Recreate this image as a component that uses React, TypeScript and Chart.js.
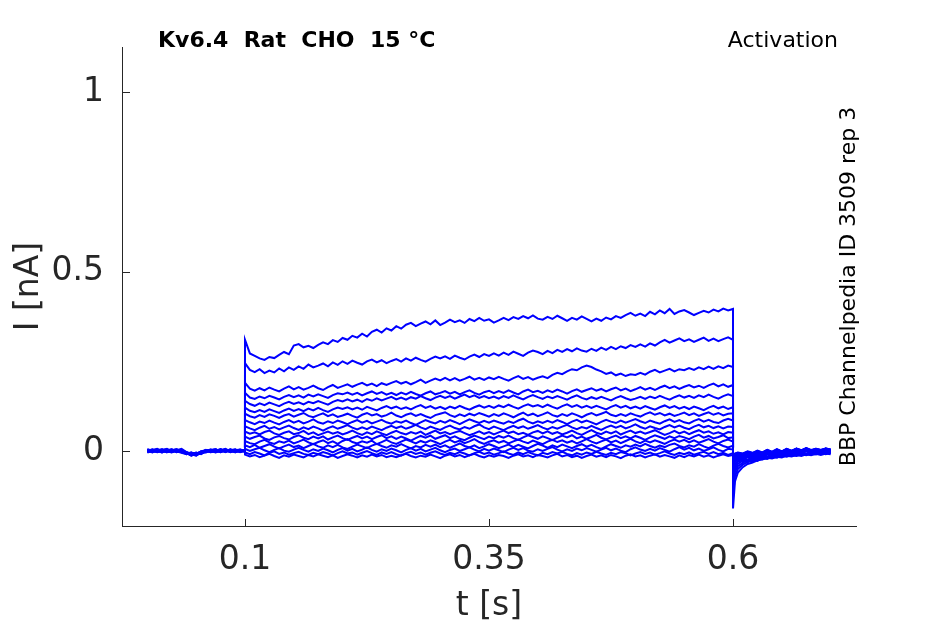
import { useEffect, useRef } from "react";
import Chart from "chart.js/auto";

// sample times (s); 0.1 and 0.6 appear twice for the step edges
const TIME = [
  0, 0.005, 0.01, 0.015, 0.02, 0.025, 0.03, 0.035, 0.04, 0.045, 0.05,
  0.055, 0.06, 0.065, 0.07, 0.075, 0.08, 0.085, 0.09, 0.095, 0.1,
  0.1, 0.105, 0.11, 0.115, 0.12, 0.125, 0.13, 0.135, 0.14, 0.145, 0.15,
  0.155, 0.16, 0.165, 0.17, 0.175, 0.18, 0.185, 0.19, 0.195, 0.2,
  0.205, 0.21, 0.215, 0.22, 0.225, 0.23, 0.235, 0.24, 0.245, 0.25,
  0.255, 0.26, 0.265, 0.27, 0.275, 0.28, 0.285, 0.29, 0.295, 0.3,
  0.305, 0.31, 0.315, 0.32, 0.325, 0.33, 0.335, 0.34, 0.345, 0.35,
  0.355, 0.36, 0.365, 0.37, 0.375, 0.38, 0.385, 0.39, 0.395, 0.4,
  0.405, 0.41, 0.415, 0.42, 0.425, 0.43, 0.435, 0.44, 0.445, 0.45,
  0.455, 0.46, 0.465, 0.47, 0.475, 0.48, 0.485, 0.49, 0.495, 0.5,
  0.505, 0.51, 0.515, 0.52, 0.525, 0.53, 0.535, 0.54, 0.545, 0.55,
  0.555, 0.56, 0.565, 0.57, 0.575, 0.58, 0.585, 0.59, 0.595, 0.6,
  0.6, 0.602, 0.605, 0.61, 0.615, 0.62, 0.625, 0.63, 0.635, 0.64, 0.645,
  0.65, 0.655, 0.66, 0.665, 0.67, 0.675, 0.68, 0.685, 0.69, 0.695, 0.7,
];

// current traces (nA), one per voltage step: holding / step / tail
const TRACE_01 = [
  0.003, -0.002, 0.004, 0.0, -0.003, 0.002, 0.005, -0.001, -0.006, -0.01, -0.004,
  -0.008, 0.001, -0.002, 0.003, 0.0, 0.004, -0.003, 0.002, -0.001, 0.001,
  0.31, 0.272, 0.265, 0.258, 0.254, 0.262, 0.259, 0.268, 0.276, 0.27, 0.294,
  0.298, 0.289, 0.293, 0.287, 0.296, 0.303, 0.298, 0.309, 0.304, 0.315,
  0.31, 0.321, 0.316, 0.327, 0.319, 0.332, 0.338, 0.33, 0.342, 0.336,
  0.348, 0.341, 0.352, 0.357, 0.348, 0.355, 0.361, 0.353, 0.364, 0.351,
  0.358, 0.366, 0.359, 0.364, 0.357, 0.368, 0.362, 0.371, 0.363, 0.367,
  0.358, 0.364, 0.371, 0.365, 0.373, 0.368, 0.376, 0.37, 0.378, 0.369,
  0.366, 0.374, 0.368, 0.377, 0.37, 0.363, 0.371, 0.366, 0.375, 0.368,
  0.361, 0.369, 0.363, 0.372, 0.367, 0.376, 0.371, 0.379, 0.385, 0.377,
  0.383, 0.376, 0.388, 0.381, 0.392, 0.384, 0.396, 0.382, 0.389, 0.393,
  0.386, 0.379, 0.385, 0.391, 0.386, 0.394, 0.389, 0.397, 0.392, 0.396,
  -0.16, -0.085, -0.06, -0.045, -0.036, -0.032, -0.026, -0.024, -0.019, -0.021, -0.016,
  -0.018, -0.013, -0.015, -0.011, -0.014, -0.009, -0.012, -0.008, -0.011, -0.007, -0.009,
];
const TRACE_02 = [
  -0.002, 0.004, 0.0, -0.004, 0.003, -0.001, 0.002, 0.006, -0.003, -0.007, -0.011,
  -0.005, -0.002, 0.003, -0.001, 0.004, 0.0, 0.003, -0.004, 0.002, -0.001,
  0.245, 0.226, 0.22, 0.228, 0.217, 0.224, 0.219, 0.23, 0.222, 0.233, 0.226,
  0.236, 0.229, 0.241, 0.233, 0.238, 0.244, 0.236, 0.247, 0.24, 0.25,
  0.243, 0.252, 0.246, 0.241, 0.25, 0.255, 0.247, 0.253, 0.245, 0.251,
  0.256, 0.249, 0.258, 0.252, 0.26, 0.254, 0.249, 0.257, 0.263, 0.258,
  0.264, 0.257, 0.266, 0.26, 0.255, 0.263, 0.269, 0.262, 0.27, 0.265,
  0.272, 0.266, 0.274, 0.268, 0.277, 0.271, 0.265, 0.274, 0.28, 0.276,
  0.27, 0.279, 0.273, 0.282, 0.276, 0.284, 0.278, 0.286, 0.28, 0.277,
  0.285, 0.279, 0.288, 0.282, 0.29, 0.284, 0.292, 0.287, 0.295, 0.29,
  0.297, 0.291, 0.3, 0.294, 0.303, 0.31, 0.302, 0.308, 0.314, 0.306,
  0.311, 0.304, 0.31, 0.316, 0.307, 0.313, 0.306, 0.312, 0.317, 0.31,
  -0.125, -0.07, -0.05, -0.038, -0.031, -0.025, -0.028, -0.02, -0.022, -0.016, -0.019,
  -0.013, -0.016, -0.011, -0.014, -0.009, -0.012, -0.008, -0.01, -0.006, -0.009, -0.005,
];
const TRACE_03 = [
  0.005, 0.001, -0.003, 0.002, 0.006, -0.002, -0.001, -0.005, -0.009, -0.004, -0.008,
  -0.002, 0.002, -0.003, 0.001, 0.005, -0.002, 0.001, 0.004, -0.002, 0.002,
  0.19, 0.174, 0.168, 0.175, 0.169, 0.177, 0.171, 0.166, 0.174, 0.18, 0.172,
  0.178, 0.171, 0.176, 0.182, 0.175, 0.17, 0.178, 0.184, 0.176, 0.181,
  0.186, 0.179, 0.185, 0.19, 0.183, 0.188, 0.181, 0.189, 0.184, 0.19,
  0.195, 0.188, 0.193, 0.186, 0.192, 0.199, 0.19, 0.196, 0.202, 0.197,
  0.204, 0.197, 0.203, 0.196, 0.201, 0.207, 0.199, 0.204, 0.198, 0.205,
  0.2, 0.207, 0.201, 0.196, 0.203, 0.209, 0.201, 0.206, 0.199, 0.204,
  0.208, 0.203, 0.212, 0.218, 0.214, 0.222, 0.228, 0.225, 0.233, 0.238,
  0.234, 0.227, 0.222, 0.215, 0.219, 0.211, 0.216, 0.209, 0.214, 0.212,
  0.218, 0.213, 0.221, 0.226, 0.219, 0.224, 0.229, 0.222, 0.228, 0.225,
  0.231, 0.226, 0.233, 0.228, 0.235, 0.229, 0.236, 0.231, 0.238, 0.234,
  -0.1, -0.058, -0.042, -0.033, -0.025, -0.029, -0.02, -0.023, -0.016, -0.019, -0.013,
  -0.016, -0.01, -0.013, -0.008, -0.012, -0.007, -0.01, -0.005, -0.009, -0.004, -0.007,
];
const TRACE_04 = [
  -0.004, 0.0, 0.003, -0.002, 0.001, 0.005, -0.003, 0.002, -0.004, -0.012, -0.007,
  -0.003, 0.001, 0.004, -0.002, 0.002, 0.006, -0.001, 0.0, 0.003, -0.002,
  0.162, 0.149, 0.145, 0.152, 0.147, 0.154, 0.149, 0.144, 0.151, 0.156, 0.15,
  0.155, 0.149, 0.157, 0.152, 0.158, 0.153, 0.148, 0.156, 0.161, 0.158,
  0.163, 0.157, 0.162, 0.155, 0.161, 0.166, 0.159, 0.164, 0.157, 0.162,
  0.156, 0.163, 0.158, 0.165, 0.159, 0.154, 0.161, 0.166, 0.158, 0.162,
  0.167, 0.16, 0.165, 0.158, 0.164, 0.169, 0.162, 0.157, 0.164, 0.168,
  0.161, 0.167, 0.162, 0.169, 0.163, 0.158, 0.166, 0.171, 0.164, 0.168,
  0.162, 0.169, 0.164, 0.171, 0.166, 0.16, 0.167, 0.172, 0.165, 0.17,
  0.175, 0.168, 0.173, 0.166, 0.172, 0.177, 0.169, 0.174, 0.167, 0.172,
  0.178, 0.171, 0.176, 0.17, 0.177, 0.182, 0.175, 0.18, 0.173, 0.179,
  0.184, 0.177, 0.182, 0.176, 0.183, 0.188, 0.18, 0.186, 0.179, 0.184,
  -0.085, -0.05, -0.036, -0.027, -0.031, -0.022, -0.025, -0.017, -0.02, -0.014, -0.017,
  -0.011, -0.014, -0.008, -0.012, -0.006, -0.01, -0.005, -0.008, -0.003, -0.007, -0.004,
];
const TRACE_05 = [
  0.001, -0.003, 0.002, 0.005, -0.001, -0.004, 0.003, 0.0, -0.007, -0.005, -0.01,
  -0.006, -0.001, 0.002, 0.005, -0.003, 0.001, 0.004, -0.002, 0.001, 0.003,
  0.14, 0.131, 0.126, 0.133, 0.128, 0.135, 0.13, 0.125, 0.132, 0.137, 0.131,
  0.136, 0.13, 0.137, 0.133, 0.139, 0.134, 0.129, 0.137, 0.142, 0.138,
  0.144, 0.138, 0.143, 0.137, 0.145, 0.14, 0.147, 0.141, 0.146, 0.151,
  0.144, 0.149, 0.143, 0.15, 0.146, 0.153, 0.147, 0.142, 0.149, 0.154,
  0.148, 0.153, 0.146, 0.152, 0.157, 0.15, 0.155, 0.148, 0.153, 0.147,
  0.152, 0.146, 0.153, 0.148, 0.155, 0.149, 0.144, 0.151, 0.156, 0.15,
  0.145, 0.152, 0.147, 0.153, 0.148, 0.143, 0.15, 0.155, 0.148, 0.144,
  0.15, 0.145, 0.151, 0.146, 0.141, 0.148, 0.153, 0.147, 0.142, 0.146,
  0.151, 0.145, 0.152, 0.147, 0.154, 0.148, 0.143, 0.15, 0.155, 0.149,
  0.154, 0.148, 0.155, 0.15, 0.157, 0.151, 0.146, 0.153, 0.158, 0.153,
  -0.07, -0.043, -0.03, -0.024, -0.027, -0.019, -0.022, -0.015, -0.018, -0.012, -0.015,
  -0.009, -0.013, -0.007, -0.011, -0.005, -0.009, -0.004, -0.008, -0.002, -0.006, -0.003,
];
const TRACE_06 = [
  0.004, 0.0, -0.002, 0.003, -0.003, 0.001, 0.004, -0.002, -0.005, -0.009, -0.013,
  -0.004, 0.0, -0.003, 0.002, 0.004, -0.001, 0.002, 0.005, -0.002, 0.0,
  0.121, 0.112, 0.108, 0.114, 0.109, 0.116, 0.111, 0.106, 0.113, 0.118, 0.112,
  0.117, 0.111, 0.118, 0.113, 0.12, 0.114, 0.109, 0.116, 0.121, 0.117,
  0.122, 0.116, 0.121, 0.115, 0.123, 0.118, 0.113, 0.12, 0.125, 0.119,
  0.124, 0.117, 0.122, 0.116, 0.123, 0.128, 0.12, 0.125, 0.118, 0.123,
  0.117, 0.124, 0.119, 0.126, 0.12, 0.115, 0.122, 0.127, 0.121, 0.126,
  0.12, 0.127, 0.122, 0.129, 0.123, 0.118, 0.125, 0.13, 0.124, 0.128,
  0.122, 0.129, 0.123, 0.118, 0.125, 0.13, 0.123, 0.128, 0.121, 0.126,
  0.12, 0.126, 0.121, 0.116, 0.123, 0.128, 0.121, 0.126, 0.119, 0.124,
  0.118, 0.125, 0.12, 0.115, 0.122, 0.127, 0.12, 0.125, 0.118, 0.123,
  0.117, 0.124, 0.119, 0.114, 0.121, 0.126, 0.119, 0.124, 0.117, 0.122,
  -0.058, -0.037, -0.027, -0.02, -0.024, -0.016, -0.02, -0.012, -0.016, -0.01, -0.013,
  -0.007, -0.011, -0.005, -0.01, -0.004, -0.008, -0.002, -0.007, -0.001, -0.005, -0.002,
];
const TRACE_07 = [
  -0.001, 0.003, 0.006, -0.002, 0.002, -0.002, 0.0, 0.003, -0.008, -0.006, -0.009,
  -0.001, 0.003, 0.0, -0.004, 0.001, 0.003, -0.002, 0.002, 0.004, -0.001,
  0.104, 0.097, 0.093, 0.1, 0.095, 0.102, 0.098, 0.092, 0.099, 0.103, 0.096,
  0.101, 0.106, 0.098, 0.094, 0.1, 0.105, 0.097, 0.102, 0.095, 0.099,
  0.104, 0.098, 0.093, 0.101, 0.106, 0.099, 0.103, 0.096, 0.1, 0.107,
  0.099, 0.094, 0.101, 0.105, 0.098, 0.103, 0.097, 0.092, 0.1, 0.104,
  0.108, 0.1, 0.095, 0.102, 0.097, 0.104, 0.099, 0.106, 0.101, 0.096,
  0.103, 0.098, 0.105, 0.1, 0.094, 0.101, 0.107, 0.099, 0.104, 0.097,
  0.102, 0.108, 0.1, 0.096, 0.103, 0.098, 0.105, 0.1, 0.094, 0.101,
  0.106, 0.099, 0.104, 0.109, 0.101, 0.097, 0.103, 0.098, 0.105, 0.1,
  0.096, 0.103, 0.108, 0.101, 0.106, 0.099, 0.104, 0.098, 0.102, 0.107,
  0.1, 0.105, 0.098, 0.103, 0.108, 0.101, 0.106, 0.099, 0.104, 0.105,
  -0.048, -0.031, -0.022, -0.025, -0.017, -0.021, -0.013, -0.017, -0.01, -0.014, -0.008,
  -0.012, -0.005, -0.01, -0.004, -0.008, -0.001, -0.006, 0.0, -0.005, 0.001, -0.003,
];
const TRACE_08 = [
  0.002, -0.004, 0.001, 0.004, 0.0, 0.003, -0.003, 0.001, -0.004, -0.011, -0.006,
  -0.007, -0.003, 0.002, 0.005, -0.001, 0.002, 0.0, -0.003, 0.001, 0.002,
  0.086, 0.08, 0.075, 0.082, 0.078, 0.085, 0.079, 0.074, 0.081, 0.086, 0.079,
  0.084, 0.077, 0.082, 0.088, 0.08, 0.076, 0.083, 0.078, 0.085, 0.08,
  0.075, 0.081, 0.086, 0.079, 0.084, 0.077, 0.082, 0.087, 0.08, 0.076,
  0.083, 0.079, 0.085, 0.078, 0.073, 0.08, 0.086, 0.081, 0.077, 0.084,
  0.079, 0.086, 0.081, 0.075, 0.082, 0.088, 0.083, 0.078, 0.084, 0.079,
  0.085, 0.08, 0.076, 0.083, 0.078, 0.085, 0.09, 0.082, 0.077, 0.083,
  0.078, 0.084, 0.079, 0.086, 0.081, 0.075, 0.082, 0.087, 0.08, 0.085,
  0.08, 0.074, 0.081, 0.087, 0.082, 0.078, 0.085, 0.079, 0.084, 0.089,
  0.083, 0.078, 0.085, 0.08, 0.076, 0.083, 0.088, 0.081, 0.086, 0.08,
  0.077, 0.084, 0.089, 0.082, 0.087, 0.081, 0.078, 0.085, 0.09, 0.085,
  -0.04, -0.027, -0.019, -0.022, -0.014, -0.018, -0.01, -0.015, -0.008, -0.012, -0.005,
  -0.01, -0.003, -0.008, -0.001, -0.006, 0.001, -0.005, 0.002, -0.004, 0.001, -0.002,
];
const TRACE_09 = [
  -0.003, 0.002, -0.001, 0.003, 0.005, -0.002, 0.002, -0.003, -0.006, -0.008, -0.012,
  -0.003, 0.002, -0.002, 0.001, 0.003, -0.003, 0.004, 0.001, -0.002, 0.003,
  0.069, 0.063, 0.058, 0.065, 0.07, 0.062, 0.067, 0.06, 0.066, 0.071, 0.064,
  0.059, 0.066, 0.061, 0.068, 0.063, 0.057, 0.064, 0.069, 0.062, 0.067,
  0.072, 0.065, 0.06, 0.066, 0.061, 0.068, 0.063, 0.058, 0.065, 0.07,
  0.064, 0.069, 0.062, 0.067, 0.073, 0.066, 0.061, 0.068, 0.063, 0.059,
  0.066, 0.071, 0.064, 0.06, 0.067, 0.062, 0.069, 0.074, 0.066, 0.061,
  0.068, 0.063, 0.058, 0.065, 0.07, 0.064, 0.069, 0.062, 0.067, 0.072,
  0.065, 0.06, 0.067, 0.062, 0.068, 0.073, 0.066, 0.061, 0.067, 0.063,
  0.07, 0.064, 0.059, 0.066, 0.071, 0.065, 0.07, 0.063, 0.068, 0.074,
  0.067, 0.062, 0.069, 0.064, 0.06, 0.067, 0.072, 0.066, 0.071, 0.065,
  0.061, 0.068, 0.073, 0.066, 0.07, 0.064, 0.069, 0.063, 0.068, 0.067,
  -0.033, -0.023, -0.016, -0.019, -0.011, -0.015, -0.008, -0.012, -0.005, -0.01, -0.002,
  -0.008, 0.0, -0.006, 0.002, -0.004, 0.003, -0.003, 0.002, -0.004, 0.003, -0.001,
];
const TRACE_10 = [
  0.003, 0.0, 0.004, -0.003, 0.001, 0.004, -0.001, 0.002, -0.005, -0.007, -0.005,
  -0.009, 0.0, 0.004, -0.001, -0.002, 0.004, 0.001, -0.001, 0.003, 0.0,
  0.054, 0.048, 0.052, 0.046, 0.053, 0.057, 0.049, 0.045, 0.051, 0.055, 0.047,
  0.05, 0.056, 0.047, 0.052, 0.044, 0.049, 0.054, 0.048, 0.053, 0.046,
  0.051, 0.057, 0.05, 0.045, 0.052, 0.047, 0.055, 0.049, 0.044, 0.051,
  0.056, 0.05, 0.046, 0.053, 0.048, 0.054, 0.045, 0.051, 0.057, 0.049,
  0.053, 0.047, 0.052, 0.056, 0.05, 0.044, 0.049, 0.055, 0.048, 0.053,
  0.046, 0.052, 0.057, 0.05, 0.054, 0.047, 0.051, 0.045, 0.052, 0.056,
  0.049, 0.055, 0.048, 0.053, 0.046, 0.051, 0.057, 0.05, 0.045, 0.052,
  0.058, 0.051, 0.047, 0.054, 0.049, 0.055, 0.046, 0.052, 0.057, 0.05,
  0.054, 0.048, 0.053, 0.058, 0.051, 0.045, 0.05, 0.056, 0.049, 0.054,
  0.047, 0.053, 0.058, 0.051, 0.055, 0.048, 0.052, 0.046, 0.053, 0.051,
  -0.027, -0.02, -0.013, -0.016, -0.009, -0.013, -0.006, -0.01, -0.003, -0.008, 0.0,
  -0.006, 0.002, -0.004, 0.003, -0.003, 0.004, -0.002, 0.003, -0.003, 0.004, 0.0,
];
const TRACE_11 = [
  0.0, 0.005, -0.002, 0.001, -0.003, 0.002, 0.005, -0.004, -0.003, -0.01, -0.008,
  -0.002, -0.004, 0.001, 0.003, 0.001, -0.002, 0.003, 0.002, -0.003, 0.001,
  0.04, 0.034, 0.039, 0.043, 0.035, 0.031, 0.038, 0.042, 0.036, 0.032, 0.039,
  0.044, 0.037, 0.033, 0.04, 0.035, 0.041, 0.032, 0.038, 0.043, 0.036,
  0.031, 0.037, 0.042, 0.035, 0.04, 0.033, 0.039, 0.044, 0.036, 0.041,
  0.034, 0.04, 0.035, 0.029, 0.036, 0.042, 0.037, 0.043, 0.034, 0.039,
  0.044, 0.036, 0.041, 0.034, 0.03, 0.037, 0.043, 0.038, 0.033, 0.04,
  0.035, 0.042, 0.037, 0.043, 0.036, 0.031, 0.038, 0.044, 0.039, 0.034,
  0.041, 0.036, 0.03, 0.037, 0.043, 0.038, 0.044, 0.035, 0.04, 0.034,
  0.039, 0.045, 0.037, 0.032, 0.038, 0.043, 0.036, 0.041, 0.035, 0.042,
  0.037, 0.031, 0.038, 0.044, 0.039, 0.034, 0.041, 0.036, 0.042, 0.038,
  0.033, 0.04, 0.045, 0.037, 0.042, 0.035, 0.039, 0.044, 0.036, 0.038,
  -0.022, -0.017, -0.011, -0.014, -0.007, -0.011, -0.004, -0.009, -0.002, -0.007, 0.001,
  -0.005, 0.003, -0.003, 0.004, -0.002, 0.005, -0.002, 0.004, -0.001, 0.005, 0.001,
];
const TRACE_12 = [
  -0.002, 0.001, 0.003, -0.001, 0.004, -0.003, 0.001, 0.004, -0.007, -0.004, -0.011,
  -0.005, 0.002, 0.0, -0.002, 0.005, 0.0, -0.002, 0.003, 0.001, -0.002,
  0.028, 0.022, 0.019, 0.026, 0.031, 0.024, 0.02, 0.027, 0.023, 0.029, 0.021,
  0.026, 0.032, 0.024, 0.019, 0.025, 0.03, 0.022, 0.027, 0.02, 0.028,
  0.033, 0.025, 0.021, 0.027, 0.023, 0.029, 0.019, 0.025, 0.031, 0.024,
  0.02, 0.026, 0.032, 0.027, 0.021, 0.028, 0.023, 0.03, 0.025, 0.019,
  0.026, 0.031, 0.024, 0.029, 0.022, 0.027, 0.033, 0.025, 0.02, 0.026,
  0.03, 0.023, 0.028, 0.021, 0.027, 0.032, 0.026, 0.022, 0.029, 0.024,
  0.019, 0.026, 0.031, 0.025, 0.03, 0.023, 0.028, 0.021, 0.027, 0.033,
  0.026, 0.021, 0.027, 0.032, 0.024, 0.029, 0.022, 0.028, 0.034, 0.027,
  0.022, 0.029, 0.024, 0.03, 0.025, 0.02, 0.027, 0.032, 0.026, 0.031,
  0.024, 0.03, 0.023, 0.028, 0.033, 0.026, 0.021, 0.028, 0.032, 0.026,
  -0.018, -0.014, -0.009, -0.012, -0.005, -0.01, -0.003, -0.008, 0.0, -0.006, 0.002,
  -0.004, 0.004, -0.002, 0.005, -0.001, 0.006, -0.001, 0.005, 0.0, 0.006, 0.002,
];
const TRACE_13 = [
  0.004, -0.001, 0.0, 0.004, -0.002, 0.003, -0.002, 0.0, -0.005, -0.012, -0.007,
  -0.004, 0.001, 0.003, 0.0, -0.003, 0.003, 0.002, -0.001, 0.004, 0.001,
  0.016, 0.011, 0.017, 0.009, 0.014, 0.019, 0.012, 0.007, 0.013, 0.018, 0.011,
  0.015, 0.008, 0.014, 0.02, 0.013, 0.009, 0.016, 0.011, 0.017, 0.01,
  0.006, 0.012, 0.018, 0.013, 0.008, 0.015, 0.02, 0.014, 0.009, 0.016,
  0.012, 0.019, 0.013, 0.007, 0.014, 0.01, 0.017, 0.012, 0.018, 0.011,
  0.016, 0.009, 0.015, 0.021, 0.014, 0.01, 0.016, 0.008, 0.013, 0.019,
  0.014, 0.008, 0.013, 0.018, 0.011, 0.017, 0.012, 0.007, 0.014, 0.02,
  0.015, 0.009, 0.016, 0.011, 0.018, 0.013, 0.008, 0.014, 0.019, 0.012,
  0.017, 0.011, 0.006, 0.013, 0.019, 0.014, 0.009, 0.016, 0.012, 0.018,
  0.013, 0.02, 0.014, 0.009, 0.015, 0.011, 0.017, 0.021, 0.014, 0.01,
  0.016, 0.012, 0.019, 0.013, 0.008, 0.015, 0.02, 0.014, 0.01, 0.015,
  -0.015, -0.012, -0.007, -0.011, -0.004, -0.009, -0.002, -0.007, 0.001, -0.005, 0.003,
  -0.003, 0.005, -0.002, 0.006, 0.0, 0.007, 0.0, 0.006, 0.001, 0.007, 0.003,
];
const TRACE_14 = [
  0.001, 0.003, -0.003, 0.002, 0.002, -0.001, 0.003, -0.002, -0.009, -0.006, -0.01,
  -0.001, -0.002, 0.003, 0.004, 0.0, -0.001, 0.005, 0.0, -0.001, 0.002,
  0.006, 0.0, 0.005, 0.009, 0.002, -0.003, 0.003, 0.008, 0.001, -0.002, 0.004,
  0.009, 0.003, -0.002, 0.005, 0.0, 0.007, 0.002, -0.004, 0.003, 0.008,
  0.001, 0.006, -0.001, 0.004, 0.01, 0.003, -0.002, 0.005, 0.0, 0.007,
  0.002, -0.004, 0.003, 0.008, 0.001, 0.006, -0.001, 0.004, 0.009, 0.002,
  -0.003, 0.003, 0.007, 0.0, 0.005, 0.01, 0.004, -0.001, 0.006, 0.001,
  0.007, 0.002, -0.003, 0.004, 0.009, 0.003, 0.008, 0.001, -0.002, 0.005,
  0.0, 0.006, 0.011, 0.004, -0.001, 0.005, 0.0, 0.007, 0.002, 0.008,
  0.003, -0.002, 0.004, 0.009, 0.002, 0.007, 0.001, -0.003, 0.005, 0.01,
  0.004, 0.0, 0.006, 0.001, 0.008, 0.003, -0.002, 0.005, 0.011, 0.004,
  0.009, 0.002, 0.007, 0.0, 0.005, 0.01, 0.003, -0.001, 0.006, 0.004,
  -0.012, -0.01, -0.006, -0.009, -0.003, -0.007, -0.001, -0.006, 0.002, -0.004, 0.004,
  -0.002, 0.006, -0.001, 0.007, 0.001, 0.008, 0.001, 0.006, 0.002, 0.007, 0.004,
];
const TRACE_15 = [
  -0.003, 0.002, 0.002, -0.004, 0.003, 0.004, -0.002, 0.003, -0.004, -0.009, -0.006,
  -0.006, 0.003, -0.001, 0.001, 0.002, 0.004, -0.003, 0.003, 0.002, -0.001,
  -0.004, -0.009, -0.003, -0.007, -0.012, -0.005, -0.001, -0.008, -0.004, -0.01, -0.006,
  -0.002, -0.008, -0.011, -0.005, -0.009, -0.003, -0.007, -0.012, -0.006, -0.001,
  -0.007, -0.004, -0.01, -0.005, 0.0, -0.006, -0.011, -0.004, -0.008, -0.003,
  -0.009, -0.013, -0.006, -0.002, -0.008, -0.004, -0.01, -0.005, -0.001, -0.007,
  -0.011, -0.005, -0.009, -0.003, -0.007, -0.012, -0.006, -0.002, -0.008, -0.004,
  -0.01, -0.006, -0.001, -0.007, -0.011, -0.004, -0.009, -0.003, -0.008, -0.012,
  -0.005, -0.009, -0.003, -0.007, -0.002, -0.008, -0.012, -0.006, -0.01, -0.004,
  -0.008, -0.002, -0.007, -0.011, -0.005, -0.009, -0.003, -0.006, -0.012, -0.007,
  -0.003, -0.008, -0.004, -0.01, -0.006, -0.001, -0.007, -0.011, -0.005, -0.009,
  -0.004, -0.01, -0.006, -0.002, -0.008, -0.003, -0.009, -0.005, -0.011, -0.006,
  -0.01, -0.008, -0.005, -0.008, -0.002, -0.006, 0.0, -0.005, 0.003, -0.003, 0.004,
  -0.001, 0.005, 0.0, 0.006, 0.002, 0.007, 0.002, 0.005, 0.003, 0.006, 0.003,
];
const TRACE_16 = [
  0.002, -0.002, 0.005, 0.001, -0.002, 0.0, 0.002, -0.003, -0.006, -0.013, -0.008,
  -0.003, 0.0, 0.002, -0.003, 0.004, 0.001, 0.0, -0.002, 0.003, 0.001,
  -0.01, -0.015, -0.011, -0.017, -0.013, -0.008, -0.014, -0.019, -0.012, -0.016, -0.01,
  -0.014, -0.018, -0.011, -0.015, -0.009, -0.013, -0.017, -0.012, -0.019, -0.014,
  -0.009, -0.013, -0.018, -0.012, -0.016, -0.01, -0.015, -0.011, -0.017, -0.013,
  -0.017, -0.012, -0.008, -0.014, -0.018, -0.013, -0.016, -0.01, -0.015, -0.02,
  -0.013, -0.009, -0.015, -0.011, -0.017, -0.012, -0.008, -0.014, -0.018, -0.012,
  -0.016, -0.011, -0.014, -0.019, -0.013, -0.009, -0.015, -0.012, -0.017, -0.011,
  -0.014, -0.018, -0.012, -0.008, -0.015, -0.011, -0.017, -0.013, -0.019, -0.014,
  -0.01, -0.016, -0.012, -0.017, -0.011, -0.015, -0.02, -0.013, -0.009, -0.015,
  -0.012, -0.018, -0.013, -0.009, -0.016, -0.011, -0.015, -0.019, -0.012, -0.017,
  -0.011, -0.015, -0.01, -0.016, -0.012, -0.018, -0.013, -0.009, -0.014, -0.011,
  -0.008, -0.007, -0.004, -0.007, -0.001, -0.005, 0.001, -0.004, 0.003, -0.002, 0.005,
  -0.001, 0.006, 0.001, 0.007, 0.002, 0.008, 0.003, 0.006, 0.003, 0.007, 0.004,
];

const TRACES = [
  TRACE_01, TRACE_02, TRACE_03, TRACE_04, TRACE_05, TRACE_06, TRACE_07, TRACE_08,
  TRACE_09, TRACE_10, TRACE_11, TRACE_12, TRACE_13, TRACE_14, TRACE_15, TRACE_16,
];

const X_TICKS = [0.1, 0.35, 0.6];
const Y_TICKS = [0, 0.5, 1];

const TITLE = "Kv6.4  Rat  CHO  15 °C";
const PROTOCOL = "Activation";
const SOURCE = "BBP Channelpedia ID 3509 rep 3";
const X_LABEL = "t [s]";
const Y_LABEL = "I [nA]";

const INK = "#262626";
const BLUE = "#0000ff";
const FONT = "'DejaVu Sans', sans-serif";

// inward tick marks, axis labels and the annotations around the axes
const decorations = {
  id: "decorations",
  afterDraw(chart: any) {
    const { ctx, chartArea: a, scales } = chart;
    ctx.save();
    ctx.strokeStyle = INK;
    ctx.lineWidth = 1;
    ctx.beginPath();
    X_TICKS.forEach((v) => {
      const x = Math.round(scales.x.getPixelForValue(v)) + 0.5;
      ctx.moveTo(x, a.bottom);
      ctx.lineTo(x, a.bottom - 7);
    });
    Y_TICKS.forEach((v) => {
      const y = Math.round(scales.y.getPixelForValue(v)) + 0.5;
      ctx.moveTo(a.left, y);
      ctx.lineTo(a.left + 8, y);
    });
    ctx.stroke();

    const midX = (a.left + a.right) / 2;
    const midY = (a.top + a.bottom) / 2;

    ctx.fillStyle = INK;
    ctx.textBaseline = "alphabetic";
    ctx.font = `33px ${FONT}`;
    ctx.textAlign = "center";
    ctx.fillText(X_LABEL, midX, a.bottom + 89);
    ctx.save();
    ctx.translate(37.5, midY);
    ctx.rotate(-Math.PI / 2);
    ctx.fillText(Y_LABEL, 0, 0);
    ctx.restore();

    ctx.fillStyle = "#000000";
    ctx.font = `bold 22px ${FONT}`;
    ctx.textAlign = "left";
    ctx.fillText(TITLE, a.left + 36, a.top);
    ctx.font = `22px ${FONT}`;
    ctx.textAlign = "right";
    ctx.fillText(PROTOCOL, a.right - 18, a.top);
    ctx.save();
    ctx.translate(a.right - 1, midY);
    ctx.rotate(-Math.PI / 2);
    ctx.textAlign = "center";
    ctx.fillText(SOURCE, 0, 0);
    ctx.restore();
    ctx.restore();
  },
};

export default function App() {
  const chartRef = useRef<HTMLCanvasElement>(null);

  useEffect(() => {
    document.body.style.margin = "0";
    if (chartRef && chartRef.current) {
      const chartInstance = new Chart(chartRef.current, {
        type: "line",
        data: {
          datasets: TRACES.map((trace, i) => ({
            label: `trace ${i + 1}`,
            data: trace.map((y, j) => ({ x: TIME[j], y })),
            borderColor: BLUE,
            borderWidth: 2,
            pointRadius: 0,
            fill: false,
            tension: 0,
          })),
        },
        options: {
          animation: false,
          responsive: true,
          maintainAspectRatio: false,
          layout: { padding: { left: 0, right: 89, top: 47, bottom: 0 } },
          plugins: {
            legend: { display: false },
            tooltip: { enabled: false },
          },
          scales: {
            x: {
              type: "linear",
              min: -0.026,
              max: 0.726,
              grid: { display: false, drawTicks: false },
              border: { display: true, color: INK, width: 1 },
              afterBuildTicks: (s: any) => {
                s.ticks = X_TICKS.map((value) => ({ value }));
              },
              afterFit: (s: any) => {
                s.height = 98;
              },
              ticks: {
                autoSkip: false,
                maxRotation: 0,
                padding: 15,
                color: INK,
                font: { family: FONT, size: 33 },
                callback: (v: any) => String(v),
              },
            },
            y: {
              type: "linear",
              min: -0.209,
              max: 1.126,
              grid: { display: false, drawTicks: false },
              border: { display: true, color: INK, width: 1 },
              afterBuildTicks: (s: any) => {
                s.ticks = Y_TICKS.map((value) => ({ value }));
              },
              afterFit: (s: any) => {
                s.width = 122;
              },
              ticks: {
                padding: 18,
                color: INK,
                font: { family: FONT, size: 33 },
                callback: (v: any) => String(v),
              },
            },
          },
        },
        plugins: [decorations],
      });

      return () => {
        chartInstance.destroy();
      };
    }
  }, []);

  return (
    <div style={{ position: "relative", width: 945, height: 624 }}>
      <canvas ref={chartRef} />
    </div>
  );
}
